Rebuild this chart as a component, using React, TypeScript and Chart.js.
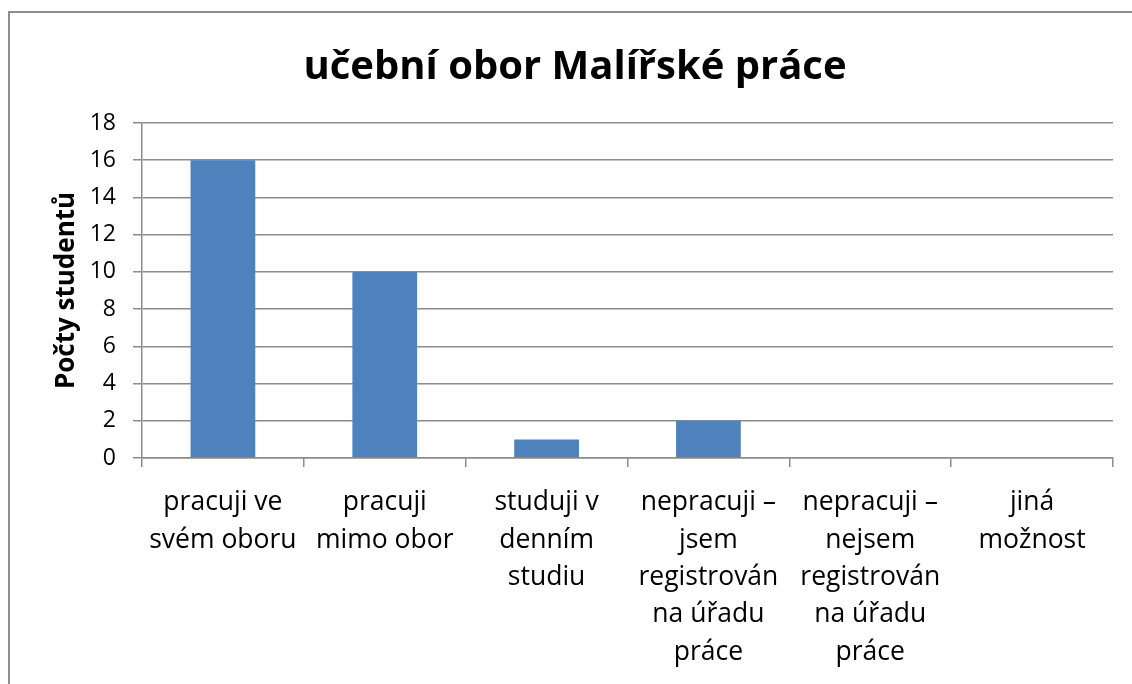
import React, { useEffect, useRef } from "react";
import { Chart, registerables } from "chart.js";

Chart.register(...registerables);

const titleText = "učební obor Malířské práce";
const yAxisTitle = "Počty studentů";
const categories: string[][] = [
  ["pracuji ve", "svém oboru"],
  ["pracuji", "mimo obor"],
  ["studuji v", "denním", "studiu"],
  ["nepracuji –", "jsem", "registrován", "na úřadu", "práce"],
  ["nepracuji –", "nejsem", "registrován", "na úřadu", "práce"],
  ["jiná", "možnost"],
];
const counts: number[] = [16, 10, 1, 2, 0, 0];
const yMin = 0;
const yMax = 18;
const yStep = 2;

const FONT = "'Open Sans', sans-serif";
const GRID = "#8c8c8c";

export default function App() {
  const ref = useRef<HTMLCanvasElement | null>(null);
  useEffect(() => {
    if (!ref.current) return;
    const chart = new Chart(ref.current, {
      type: "bar",
      data: {
        labels: categories,
        datasets: [
          {
            data: counts,
            backgroundColor: "#4f81bd",
            borderWidth: 0,
            categoryPercentage: 1,
            barPercentage: 0.4,
          },
        ],
      },
      options: {
        responsive: false,
        animation: false,
        layout: { padding: { right: 19, left: 27, top: 0, bottom: 0 } },
        plugins: {
          legend: { display: false },
          tooltip: { enabled: false },
          title: {
            display: true,
            text: titleText,
            color: "#000",
            font: { family: FONT, size: 40, weight: "bold", lineHeight: 1.2 },
            padding: { top: 31, bottom: 31 },
          },
        },
        scales: {
          x: {
            grid: {
              display: true,
              drawOnChartArea: false,
              drawTicks: true,
              tickLength: 9,
              color: GRID,
              lineWidth: 1.5,
              offset: true,
            },
            border: { display: true, color: GRID, width: 1.5 },
            ticks: {
              color: "#000",
              font: { family: FONT, size: 26.5, lineHeight: 1.41 },
              padding: 17,
              maxRotation: 0,
              autoSkip: false,
            },
            afterFit: (s: any) => {
              s.height = 226;
            },
          },
          y: {
            min: yMin,
            max: yMax,
            grid: {
              color: GRID,
              lineWidth: 1.5,
              drawTicks: true,
              tickLength: 9,
            },
            border: { display: true, color: GRID, width: 1.5 },
            ticks: {
              stepSize: yStep,
              color: "#000",
              font: { family: FONT, size: 23 },
              padding: 17,
            },
            title: {
              display: true,
              text: yAxisTitle,
              color: "#000",
              font: { family: FONT, size: 26, weight: "bold", lineHeight: 1.2 },
              padding: { top: 14, bottom: 0 },
            },
            afterFit: (s: any) => {
              s.width = 105;
            },
          },
        },
      },
    });
    return () => chart.destroy();
  }, []);
  return (
    <div
      style={{
        position: "fixed",
        left: 8,
        top: 11,
        width: 1124,
        height: 673,
        borderLeft: "2px solid #8e8e8e",
        borderTop: "2px solid #8e8e8e",
        background: "#fff",
        overflow: "hidden",
      }}
    >
      <canvas ref={ref} width={1122} height={671} style={{ display: "block" }} />
    </div>
  );
}
